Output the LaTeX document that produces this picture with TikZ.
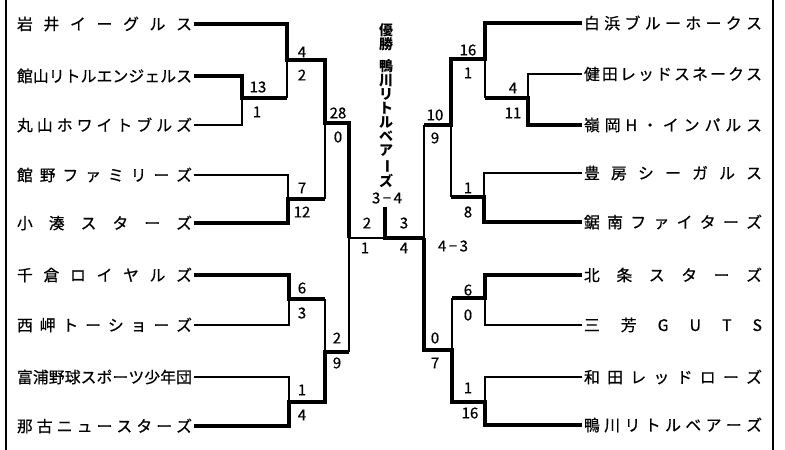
\documentclass[tikz,border=0pt]{standalone}
\usepackage{fontspec}
\usepackage{graphicx}
\setmainfont{Noto Sans CJK JP}
\newfontfamily\heavyfont[FakeBold=0.6]{Noto Sans CJK JP}
\def\sprd#1{\sprdA#1\endsprd}
\def\sprdA#1#2\endsprd{#1\ifx\relax#2\relax\else\hfill\sprdA#2\endsprd\fi}
\newcommand\lteam[1]{\makebox[175pt][s]{\sprd{#1}}}
\newcommand\rteam[1]{\makebox[178pt][s]{\sprd{#1}}}
\begin{document}
\begin{tikzpicture}[x=1pt,y=-1pt,
  tname/.style={inner sep=0pt, outer sep=2pt, font=\heavyfont\fontsize{15.8}{16}\selectfont},
  lname/.style={tname, anchor=west},
  rname/.style={tname, anchor=west},
  sc/.style={inner sep=0pt, font=\heavyfont\fontsize{15}{15}\selectfont},
  ctr/.style={inner sep=0pt, align=center, font=\fontsize{14}{14}\selectfont\bfseries},
  thk/.style={line width=4.5pt, line join=miter},
  thn/.style={line width=1.1pt},
  border/.style={line width=1.5pt}]
\useasboundingbox (0,0) rectangle (785,450);
% borders
\coordinate (bl1) at (6,0); \coordinate (bl2) at (6,450);
\coordinate (br1) at (773,0); \coordinate (br2) at (773,450);
\draw[border] (bl1) -- (bl2);
\draw[border] (br1) -- (br2);
% left teams
\node[lname] (L1) at (15,24) {\lteam{岩井イーグルス}};
\node[lname] (L2) at (15,76) {\lteam{館山リトルエンジェルス}};
\node[lname] (L3) at (15,125) {\lteam{丸山ホワイトブルズ}};
\node[lname] (L4) at (15,175) {\lteam{館野ファミリーズ}};
\node[lname] (L5) at (15,223) {\lteam{小湊スターズ}};
\node[lname] (L6) at (15,275) {\lteam{千倉ロイヤルズ}};
\node[lname] (L7) at (15,325) {\lteam{西岬トーショーズ}};
\node[lname] (L8) at (15,377) {\lteam{富浦野球スポーツ少年団}};
\node[lname] (L9) at (15,426) {\lteam{那古ニュースターズ}};
% right teams
\node[rname] (R1) at (582,23) {\rteam{白浜ブルーホークス}};
\node[rname] (R2) at (582,74) {\rteam{健田レッドスネークス}};
\node[rname] (R3) at (582,125) {\rteam{嶺岡H・インパルス}};
\node[rname] (R4) at (582,173) {\rteam{豊房シーガルス}};
\node[rname] (R5) at (582,222) {\rteam{鋸南ファイターズ}};
\node[rname] (R6) at (582,275) {\rteam{北条スターズ}};
\node[rname] (R7) at (582,325) {\rteam{三芳GUTS}};
\node[rname] (R8) at (582,377) {\rteam{和田レッドローズ}};
\node[rname] (R9) at (582,425) {\rteam{鴨川リトルベアーズ}};
% junctions
\coordinate (a1) at (287,60);
\coordinate (a2) at (242,98);
\coordinate (a3) at (325,123);
\coordinate (a4) at (288,199);
\coordinate (b1) at (289,299);
\coordinate (b2) at (289,402);
\coordinate (b3) at (325,352);
\coordinate (c) at (349,238);
\coordinate (F) at (385,238);
\coordinate (top) at (385,207);
\coordinate (d) at (424,238);
\coordinate (e1) at (451,125);
\coordinate (e2) at (485,59);
\coordinate (e3) at (528,98);
\coordinate (e4) at (484,197);
\coordinate (f1) at (452,350);
\coordinate (f2) at (485,298);
\coordinate (f3) at (485,402);
% left thin
\draw[thn] (L3.east) -| (a2);
\draw[thn] (a1) -- (a2 -| a1);
\draw[thn] (L4.east) -| (a4);
\draw[thn] (a3) -- (a4 -| a3);
\draw[thn] (L7.east) -| (b1);
\draw[thn] (L8.east) -| (b2);
\draw[thn] (b3) -- (b1 -| b3);
\draw[thn] (b3 -| c) -- (c) -- (F);
% left thick
\draw[thk] (L1.east) -| (a1) -| (a3) -| (c);
\draw[thk] (L2.east) -| (a2) -- (a2 -| a1);
\draw[thk] (L5.east) -| (a4) -- (a4 -| a3);
\draw[thk] (L6.east) -| (b1) -- (b1 -| b3);
\draw[thk] (L9.east) -| (b2) -| (b3) -- (b3 -| c);
% final
\draw[thk] (top) -- (F) -- (d);
% right thin
\draw[thn] (e1 -| d) -- (d);
\draw[thn] (R2.west) -| (e3);
\draw[thn] (e2) -- (e3 -| e2);
\draw[thn] (R4.west) -| (e4);
\draw[thn] (e1) -- (e4 -| e1);
\draw[thn] (R7.west) -| (f2);
\draw[thn] (f2 -| f1) -- (f1);
\draw[thn] (R8.west) -| (f3);
% right thick
\draw[thk] (R1.west) -| (e2) -| (e1) -- (e1 -| d);
\draw[thk] (R3.west) -| (e3) -- (e3 -| e2);
\draw[thk] (R5.west) -| (e4) -- (e4 -| e1);
\draw[thk] (R6.west) -| (f2) -- (f2 -| f1);
\draw[thk] (R9.west) -| (f3) -| (f1) -- (f1 -| d) -- (d);
% scores left
\node[sc] (s1) at (302,52) {4};
\node[sc] (s2) at (302,75) {2};
\node[sc] (s3) at (258,87) {13};
\node[sc] (s4) at (257,112) {1};
\node[sc] (s5) at (338,113) {28};
\node[sc] (s6) at (338,137) {0};
\node[sc] (s7) at (302,188) {7};
\node[sc] (s8) at (302,212) {12};
\node[sc] (s9) at (302,288) {6};
\node[sc] (s10) at (302,313) {3};
\node[sc] (s11) at (337,338) {2};
\node[sc] (s12) at (337,363) {9};
\node[sc] (s13) at (302,390) {1};
\node[sc] (s14) at (302,415) {4};
% center scores
\node[sc] (s15) at (367,223) {2};
\node[sc] (s16) at (404,223) {3};
\node[sc] (s17) at (365,248) {1};
\node[sc] (s18) at (404,248) {4};
\node[sc] (s19) at (387,198) {3\,−\,4};
\node[sc] (s20) at (453,246) {4\,−\,3};
% scores right
\node[sc] (t1) at (468,50) {16};
\node[sc] (t2) at (468,73) {1};
\node[sc] (t3) at (513,88) {4};
\node[sc] (t4) at (513,113) {11};
\node[sc] (t5) at (435,115) {10};
\node[sc] (t6) at (435,138) {9};
\node[sc] (t7) at (468,188) {1};
\node[sc] (t8) at (468,212) {8};
\node[sc] (t9) at (468,290) {6};
\node[sc] (t10) at (468,315) {0};
\node[sc] (t11) at (435,338) {0};
\node[sc] (t12) at (435,363) {7};
\node[sc] (t13) at (468,388) {1};
\node[sc] (t14) at (470,413) {16};
% champion
\node[ctr] (yu) at (386,37) {優\\勝};
\node[ctr] (champ) at (386,124) {鴨\\川\\リ\\ト\\ル\\ベ\\ア\\\rotatebox[origin=c]{-90}{ー}\\ズ};
\end{tikzpicture}
\end{document}
